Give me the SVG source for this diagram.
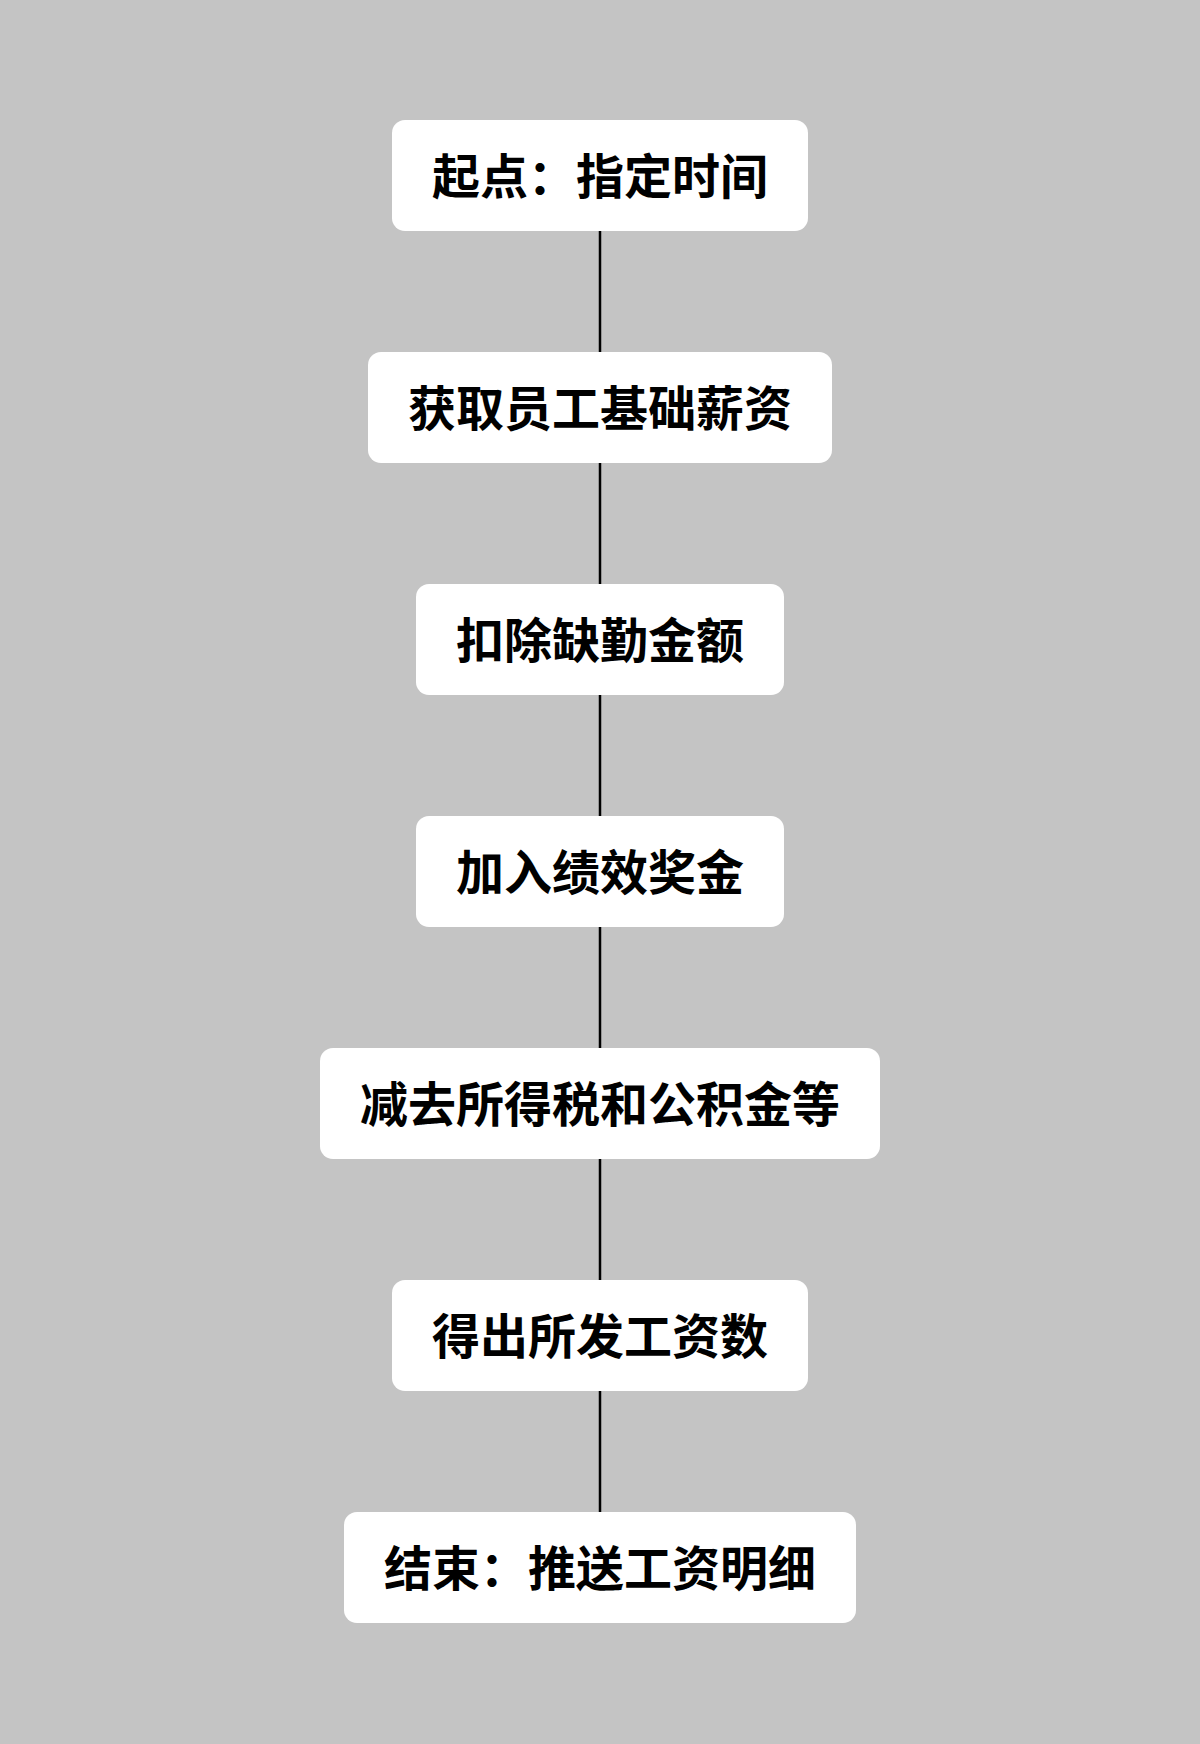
<svg xmlns="http://www.w3.org/2000/svg" width="1200" height="1744" viewBox="0 0 1200 1744">
<style>
.b{fill:#fff}
.t{font-family:"Noto Sans CJK SC","Noto Sans",sans-serif;font-size:48px;font-weight:bold;fill:#000;text-anchor:middle;dominant-baseline:central}
.c{stroke:#000;stroke-width:2.5}
</style>
<rect width="1200" height="1744" fill="#c4c4c4"/>
<g id="connectors">
<line class="c" x1="600" y1="231" x2="600" y2="352"/>
<line class="c" x1="600" y1="463" x2="600" y2="584"/>
<line class="c" x1="600" y1="695" x2="600" y2="816"/>
<line class="c" x1="600" y1="927" x2="600" y2="1048"/>
<line class="c" x1="600" y1="1159" x2="600" y2="1280"/>
<line class="c" x1="600" y1="1391" x2="600" y2="1512"/>
</g>
<g id="n1"><rect class="b" x="392" y="120" width="416" height="111" rx="13"/><text class="t" x="600" y="172.5">起点：指定时间</text></g>
<g id="n2"><rect class="b" x="368" y="352" width="464" height="111" rx="13"/><text class="t" x="600" y="404.5">获取员工基础薪资</text></g>
<g id="n3"><rect class="b" x="416" y="584" width="368" height="111" rx="13"/><text class="t" x="600" y="636.5">扣除缺勤金额</text></g>
<g id="n4"><rect class="b" x="416" y="816" width="368" height="111" rx="13"/><text class="t" x="600" y="868.5">加入绩效奖金</text></g>
<g id="n5"><rect class="b" x="320" y="1048" width="560" height="111" rx="13"/><text class="t" x="600" y="1100.5">减去所得税和公积金等</text></g>
<g id="n6"><rect class="b" x="392" y="1280" width="416" height="111" rx="13"/><text class="t" x="600" y="1332.5">得出所发工资数</text></g>
<g id="n7"><rect class="b" x="344" y="1512" width="512" height="111" rx="13"/><text class="t" x="600" y="1564.5">结束：推送工资明细</text></g>
</svg>
